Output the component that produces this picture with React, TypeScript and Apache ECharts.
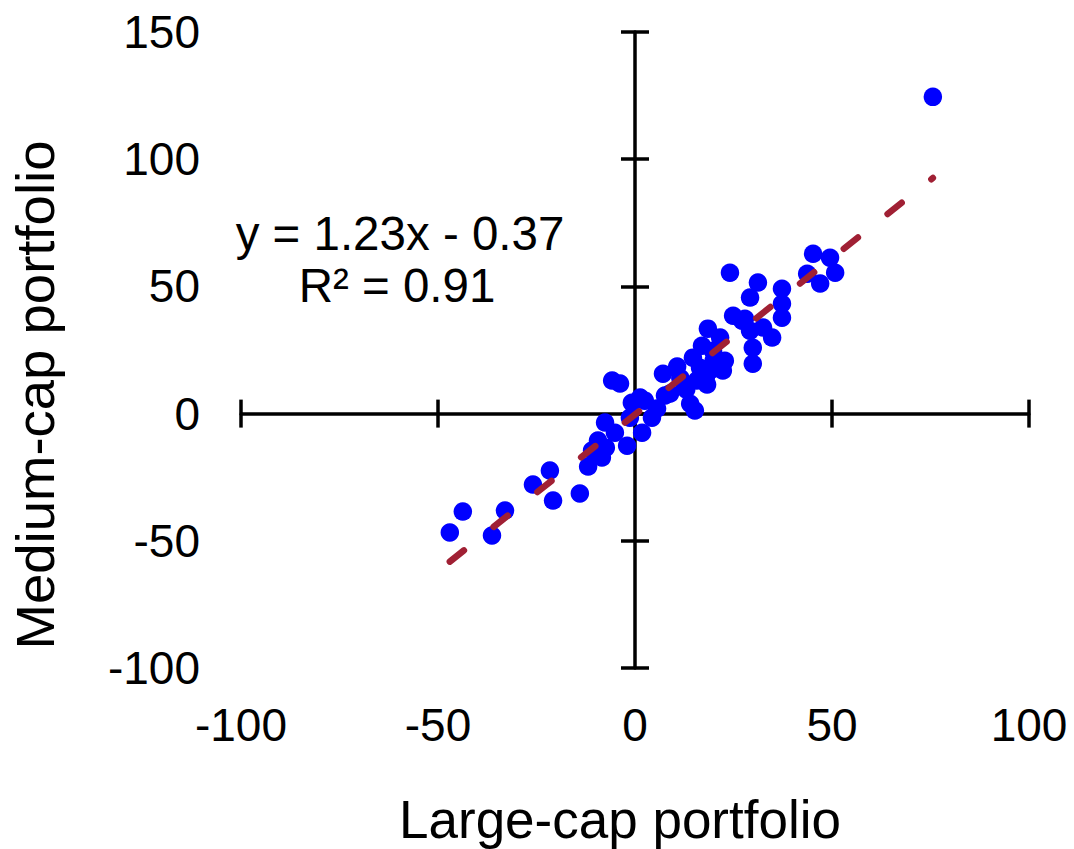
import React, { useEffect, useRef } from "react";
import * as echarts from "echarts";

// Large-cap portfolio returns (x) and Medium-cap portfolio returns (y)
const xValues = [
  -47.0, -43.7, -36.3, -33.0, -25.9, -21.6, -20.8, -14.0, -11.9, -10.9, -8.4, -9.4,
  -7.6, -7.4, -5.8, -3.8, -2.0, -0.8, 1.3, 1.8, 4.3, 5.6, -1.3, 7.1, 10.7, 8.9,
  14.0, 15.2, 15.7, 14.7, 17.0, 18.5, 18.3, 22.3, 22.3, 22.8, 21.6, 24.1, 24.9,
  27.2, 29.2, 32.5, 29.9, 29.9, 29.2, 31.2, 37.3, 37.3, 37.3, 34.8, 43.7, 45.2,
  49.5, 50.8, 47.0, 75.6, 12.7, 19.8, 19.0, 27.9, 2.5, -5.1, 7.6, 11.5, 16.5, 20.0,
  13.0, 18.0,
];
const yValues = [
  -46.7, -38.5, -47.9, -38.1, -27.9, -22.4, -34.2, -31.4, -20.8, -14.5, -17.3, -10.6,
  -3.5, -13.4, 13.0, 11.8, -12.6, 4.3, 6.3, -7.5, -1.6, 2.0, -1.6, 15.7, 18.5, 7.9,
  3.9, 1.2, 13.0, 22.0, 26.7, 33.4, 11.4, 19.6, 16.9, 20.8, 29.9, 55.4, 38.5,
  36.5, 32.6, 33.8, 25.9, 19.6, 45.6, 51.5, 49.1, 43.2, 37.7, 29.9, 55.0, 62.8,
  61.3, 55.4, 51.1, 124.5, 11.0, 24.7, 16.9, 37.3, 5.1, -7.5, 7.1, 14.0, 18.0, 21.0,
  9.5, 14.5,
];

// Axis ranges / ticks
const xMin = -100;
const xMax = 100;
const yMin = -100;
const yMax = 150;
const tickStep = 50;

// Linear trend (as printed on the chart)
const slope = 1.23;
const intercept = -0.37;
const equationText = "y = 1.23x - 0.37";
const r2Text = "R² = 0.91";

const xTitle = "Large-cap portfolio";
const yTitle = "Medium-cap portfolio";

export default function App() {
  const ref = useRef<HTMLDivElement>(null);

  useEffect(() => {
    if (!ref.current) return;
    const chart = echarts.init(ref.current, null, { renderer: "svg" });
    const font = "Liberation Sans, Arial, sans-serif";
    const axisLs = { color: "#000", width: 3.5 };

    const mkAxis = (min: number, max: number, position: string, kind: "line" | "inner" | "label", labelMargin: number) => ({
      type: "value",
      min,
      max,
      interval: tickStep,
      position,
      splitLine: { show: false },
      axisLine: {
        show: kind === "line",
        onZero: kind !== "label",
        onZeroAxisIndex: 0,
        lineStyle: axisLs,
      },
      axisTick: {
        show: kind !== "label",
        inside: kind === "inner",
        length: 14,
        lineStyle: axisLs,
      },
      axisLabel: {
        show: kind === "label",
        margin: labelMargin,
        fontSize: 46,
        color: "#000",
        fontFamily: font,
      },
    });

    const points = xValues.map((x, i) => [x, yValues[i]]);
    const tx0 = Math.min(...xValues);
    const tx1 = Math.max(...xValues);
    const trend = [
      [tx0, slope * tx0 + intercept],
      [tx1, slope * tx1 + intercept],
    ];

    chart.setOption({
      animation: false,
      backgroundColor: "#fff",
      grid: { left: 241, right: 45, top: 32, bottom: 181, outerBoundsMode: "none", containLabel: false },
      xAxis: [
        mkAxis(xMin, xMax, "bottom", "line", 0),
        mkAxis(xMin, xMax, "bottom", "inner", 0),
        mkAxis(xMin, xMax, "bottom", "label", 34),
      ],
      yAxis: [
        mkAxis(yMin, yMax, "left", "line", 0),
        mkAxis(yMin, yMax, "left", "inner", 0),
        mkAxis(yMin, yMax, "left", "label", 41),
      ],
      series: [
        {
          type: "scatter",
          xAxisIndex: 0,
          yAxisIndex: 0,
          data: points,
          symbol: "circle",
          symbolSize: 18.5,
          itemStyle: { color: "#0000FF", opacity: 1 },
        },
        {
          type: "line",
          xAxisIndex: 0,
          yAxisIndex: 0,
          data: trend,
          symbol: "none",
          lineStyle: { color: "#A02034", width: 6.5, type: [18, 37.9], cap: "round", opacity: 1 },
        },
      ],
      graphic: [
        {
          type: "text",
          x: 400,
          y: 233,
          style: { text: equationText, fill: "#000", fontSize: 47.5, fontFamily: font, align: "center", verticalAlign: "middle" },
        },
        {
          type: "text",
          x: 397,
          y: 285,
          style: { text: r2Text, fill: "#000", fontSize: 47.5, fontFamily: font, align: "center", verticalAlign: "middle" },
        },
        {
          type: "text",
          x: 620,
          y: 819,
          style: { text: xTitle, fill: "#000", fontSize: 53, fontFamily: font, align: "center", verticalAlign: "middle" },
        },
        {
          type: "text",
          x: 35,
          y: 395,
          rotation: Math.PI / 2,
          style: { text: yTitle, fill: "#000", fontSize: 54.5, fontFamily: font, align: "center", verticalAlign: "middle" },
        },
      ],
    });

    return () => chart.dispose();
  }, []);

  return <div ref={ref} style={{ position: "fixed", left: 0, top: 0, width: 1074, height: 849 }} />;
}
